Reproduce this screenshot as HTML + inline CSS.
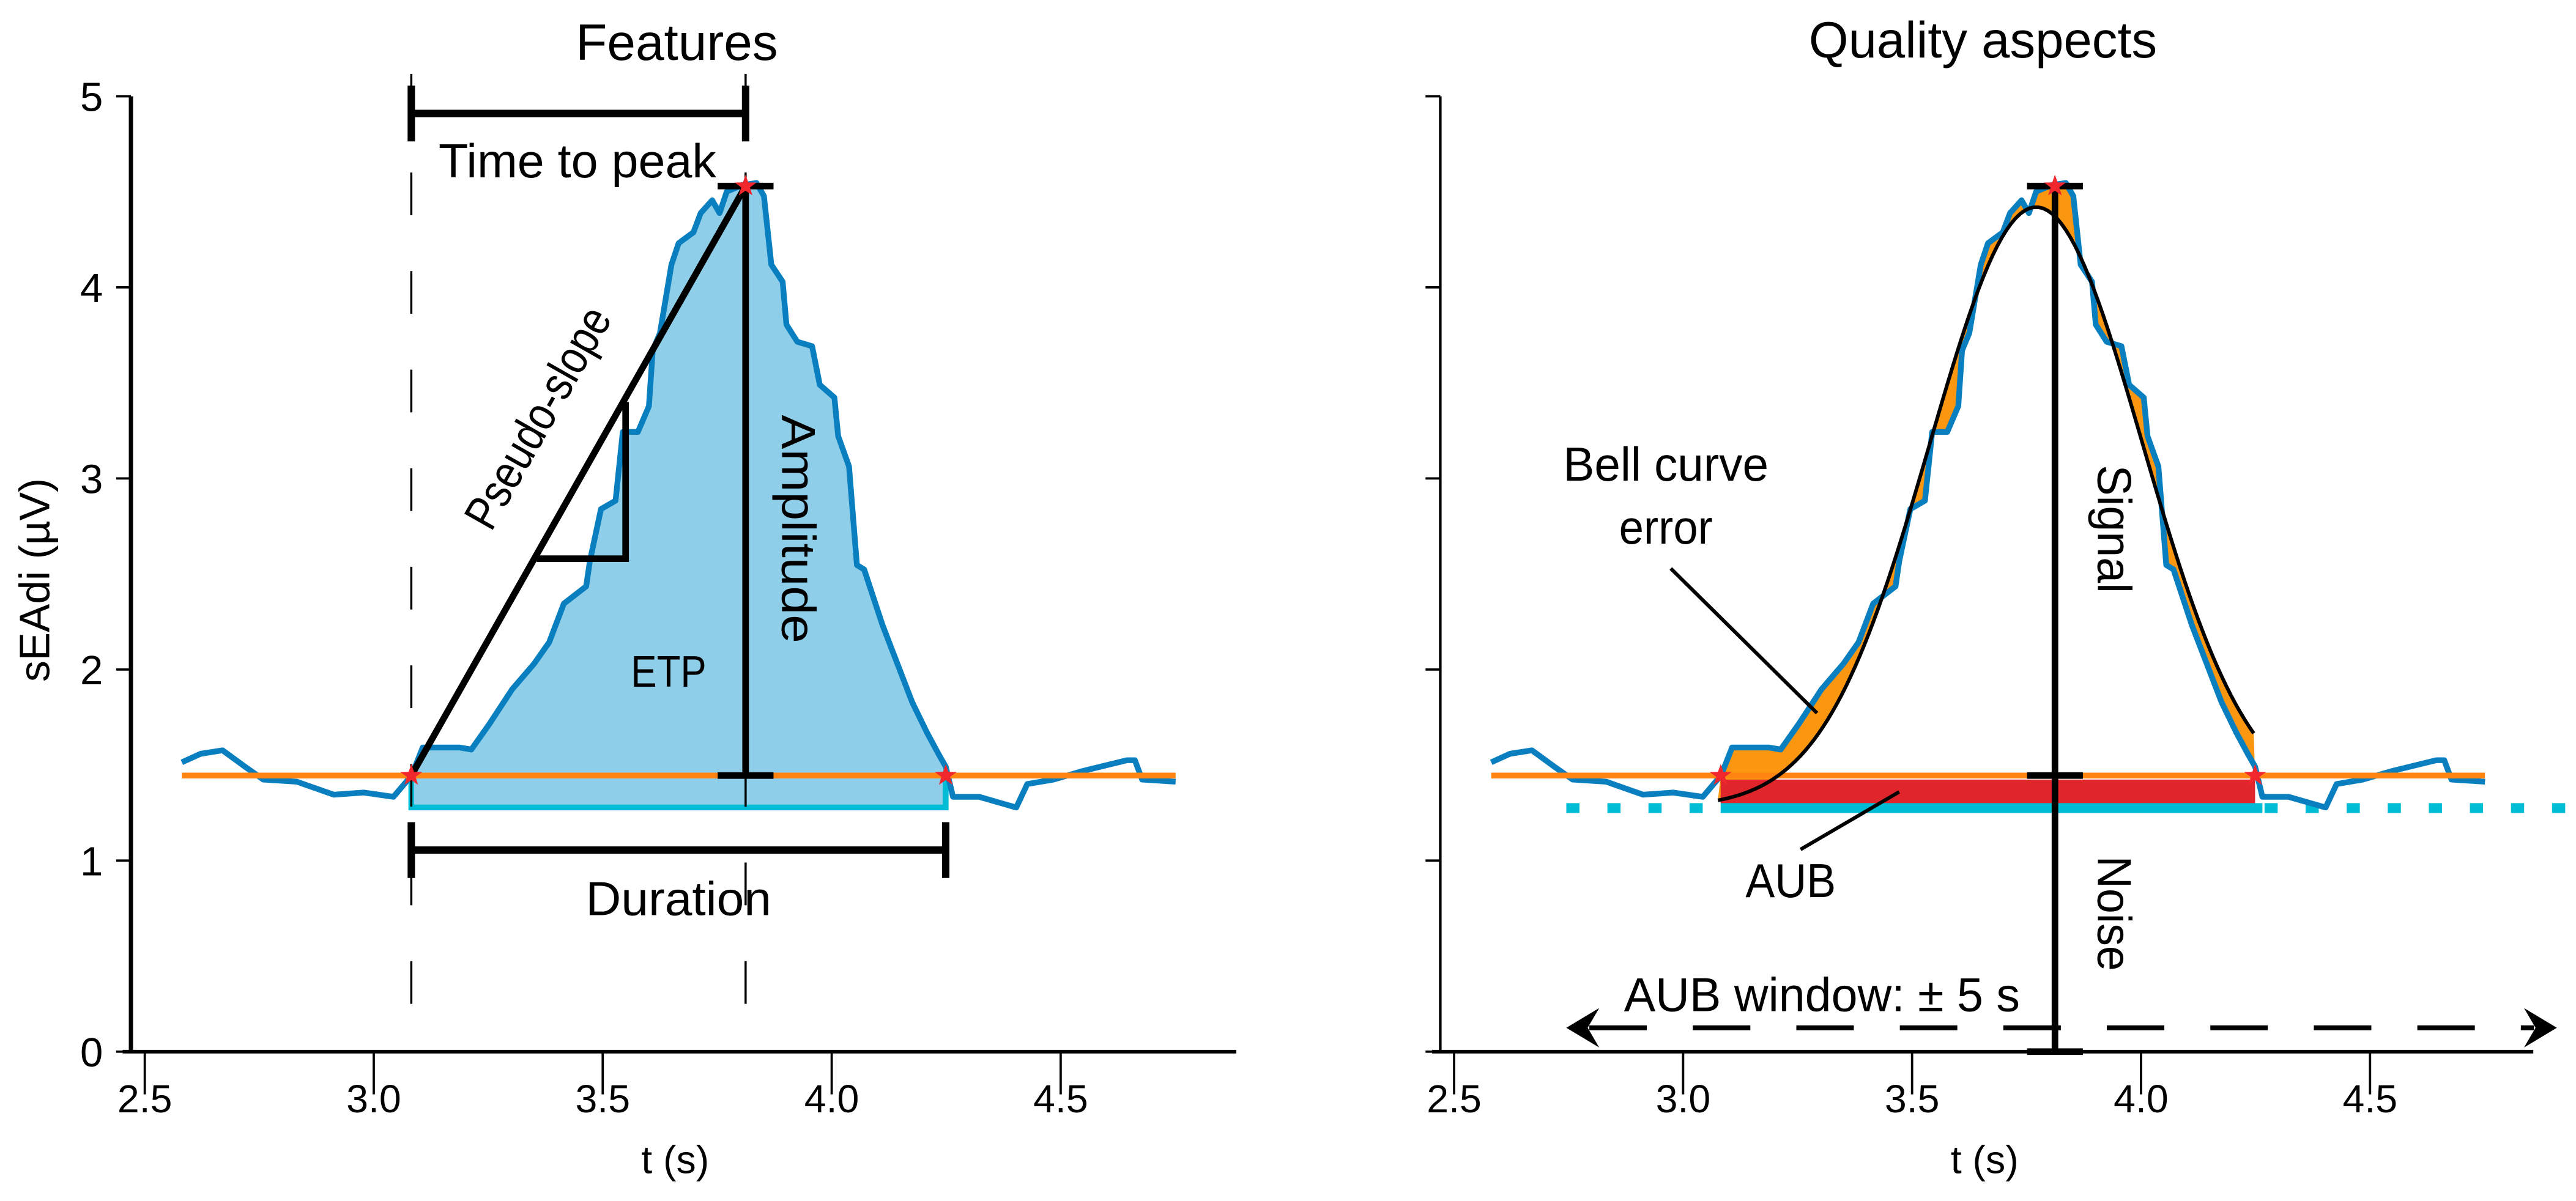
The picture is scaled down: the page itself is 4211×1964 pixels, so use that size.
<!DOCTYPE html>
<html><head><meta charset="utf-8"><style>
html,body{margin:0;padding:0;background:#fff}
svg{display:block}
text{font-family:"Liberation Sans",Arial,sans-serif;fill:#000}
</style></head><body>
<svg id="fig" width="4211" height="1964" viewBox="0 0 1568 731" preserveAspectRatio="none" xmlns="http://www.w3.org/2000/svg"></svg>
<script>
// ---- data ----
const traceT=[2.581,2.622,2.670,2.719,2.759,2.832,2.913,2.978,3.043,3.083,3.107,3.188,3.213,3.253,3.302,3.350,3.383,3.415,3.464,3.472,3.496,3.528,3.544,3.577,3.601,3.609,3.625,3.650,3.666,3.698,3.714,3.739,3.755,3.771,3.804,3.836,3.852,3.868,3.893,3.901,3.925,3.957,3.974,4.006,4.014,4.038,4.055,4.071,4.111,4.176,4.208,4.233,4.249,4.265,4.322,4.403,4.427,4.484,4.548,4.645,4.662,4.678,4.751];
const traceV=[1.514,1.559,1.577,1.491,1.424,1.413,1.345,1.356,1.334,1.446,1.592,1.592,1.581,1.716,1.896,2.030,2.143,2.345,2.435,2.569,2.839,2.884,3.243,3.243,3.378,3.670,3.760,4.119,4.231,4.288,4.389,4.456,4.389,4.501,4.535,4.546,4.478,4.119,4.029,3.805,3.715,3.692,3.490,3.423,3.221,3.063,2.547,2.524,2.232,1.828,1.671,1.559,1.491,1.334,1.334,1.278,1.401,1.424,1.469,1.525,1.525,1.424,1.413];
const baselineOrange=1.445, baselineCyan=1.278;
const onsetT=3.082, peakT=3.812, offsetT=4.249, peakV=4.53;
const bellParams=[1.28,3.14,3.771,0.232]; // offset, height, mean, sigma
const aubWindow=[2.745,4.908];
const xTicks=[2.5,3.0,3.5,4.0,4.5];
const xTickLabels=["2.5","3.0","3.5","4.0","4.5"];
const yTicks=[0,1,2,3,4,5];
const yTickLabels=["0","1","2","3","4","5"];

const NS="http://www.w3.org/2000/svg";
const svg=document.getElementById('fig');
function el(tag,attrs,parent,txt){const e=document.createElementNS(NS,tag);for(const k in attrs)e.setAttribute(k,attrs[k]);if(txt!==undefined)e.textContent=txt;(parent||svg).appendChild(e);return e;}
const Y=v=>640.1-v*116.3;
function panel(off,name){
  const X=t=>off+227.5+(t-3)*278.75;
  const g=el('g',{});
  
  
  return {X,g};
}
function tracePts(X){return traceT.map((t,i)=>X(t).toFixed(1)+','+Y(traceV[i]).toFixed(1));}
function star(g,x,y,name){const p=[];for(let i=0;i<10;i++){const r=i%2?2.8:7,a=-Math.PI/2+i*Math.PI/5;p.push((x+r*Math.cos(a)).toFixed(1)+','+(y+r*Math.sin(a)).toFixed(1));}
  const s=el('polygon',{points:p.join(' '),fill:'#f0282d'},g);}
function axes(P,off,labels,xEnd){
  const g=el('g',{},P.g);
  
  
  const ax=off+79.7;
  el('line',{x1:ax,y1:Y(5),x2:ax,y2:Y(0)+1,stroke:'#000','stroke-width':labels?2.6:1.6},g);
  el('line',{x1:ax-5,y1:Y(0),x2:xEnd,y2:Y(0),stroke:'#000','stroke-width':2.2},g);
  yTicks.forEach((v,i)=>{el('line',{x1:ax-9,y1:Y(v),x2:ax,y2:Y(v),stroke:'#000','stroke-width':1.4},g);
    if(labels){const t=el('text',{x:ax-17,y:Y(v)+9,'font-size':25,'text-anchor':'end'},g,yTickLabels[i]);}});
  xTicks.forEach((v,i)=>{el('line',{x1:P.X(v),y1:Y(0),x2:P.X(v),y2:Y(0)+26,stroke:'#000','stroke-width':1.4},g);
    const t=el('text',{x:P.X(v),y:677,'font-size':24,'text-anchor':'middle'},g,xTickLabels[i]);});
  const xt=el('text',{x:off+411,y:714,'font-size':24,'text-anchor':'middle'},g,'t (s)');
}
function lbl(g,x,y,s,txt,name,rot,len){const a={x,y,'font-size':s,'text-anchor':'middle'};if(rot!==undefined&&rot!==null)a.transform=`rotate(${rot} ${x} ${y})`;if(len){a.textLength=len;a.lengthAdjust='spacingAndGlyphs';}const t=el('text',a,g,txt);}

// ---- left panel ----
(function(){
  const P=panel(0,'features-panel'),X=P.X,g=P.g;
  const fillPts=[X(onsetT)+','+Y(baselineOrange)];traceT.forEach((t,i)=>{if(t>onsetT&&t<offsetT)fillPts.push(X(t)+','+Y(traceV[i]));});
  fillPts.push(X(offsetT)+','+Y(baselineOrange));
  fillPts.push(X(offsetT)+','+Y(baselineCyan));fillPts.push(X(onsetT)+','+Y(baselineCyan));
  const f=el('polygon',{points:fillPts.join(' '),fill:'#8fcee8'},g);
  const c=el('polyline',{points:`${X(onsetT)},${Y(1.44)} ${X(onsetT)},${Y(baselineCyan)} ${X(offsetT)},${Y(baselineCyan)} ${X(offsetT)},${Y(1.44)}`,fill:'none',stroke:'#00bcd4','stroke-width':3.5},g);
  const tr=el('polyline',{points:tracePts(X).join(' '),fill:'none',stroke:'#0a7fc0','stroke-width':3.5,'stroke-linejoin':'round'},g);
  const o=el('line',{x1:X(2.581),y1:Y(baselineOrange),x2:X(4.751),y2:Y(baselineOrange),stroke:'#ff8512','stroke-width':3.5},g);
  [onsetT,peakT].forEach(t=>{const d=el('line',{x1:X(t),y1:45,x2:X(t),y2:Y(0),stroke:'#000','stroke-width':1.3,'stroke-dasharray':'26 34'},g);});
  function bracketH(t1,t2,v,name){const gg=el('g',{stroke:'#000','stroke-width':4.5},g);
    el('line',{x1:X(t1),y1:Y(v),x2:X(t2),y2:Y(v)},gg);el('line',{x1:X(t1),y1:Y(v)-17,x2:X(t1),y2:Y(v)+17},gg);el('line',{x1:X(t2),y1:Y(v)-17,x2:X(t2),y2:Y(v)+17},gg);}
  bracketH(onsetT,peakT,4.91,'time-to-peak-bracket');
  bracketH(onsetT,offsetT,1.055,'duration-bracket');
  const am=el('g',{stroke:'#000','stroke-width':4},g);
  el('line',{x1:X(peakT),y1:Y(peakV),x2:X(peakT),y2:Y(baselineOrange)},am);
  el('line',{x1:X(peakT)-17,y1:Y(peakV),x2:X(peakT)+17,y2:Y(peakV)},am);
  el('line',{x1:X(peakT)-17,y1:Y(baselineOrange),x2:X(peakT)+17,y2:Y(baselineOrange)},am);
  const sl=el('g',{stroke:'#000','stroke-width':4,fill:'none'},g);
  el('line',{x1:X(onsetT),y1:Y(baselineOrange),x2:X(peakT),y2:Y(peakV)},sl);
  el('polyline',{points:`${X(3.356)},${Y(2.58)} ${X(3.55)},${Y(2.58)} ${X(3.55)},${Y(3.40)}`},sl);
  star(g,X(onsetT),Y(baselineOrange),'onset-star');star(g,X(offsetT),Y(baselineOrange),'offset-star');star(g,X(peakT),Y(peakV),'peak-star');
  axes(P,0,true,752.5);
  lbl(g,412,36.5,31,'Features','panel-title',null,123);
  lbl(g,351.5,108,29,'Time to peak','time-to-peak-label',null,169);
  lbl(g,413,557,29,'Duration','duration-label',null,113);
  lbl(g,407,418,27,'ETP','etp-label',null,46);
  lbl(g,476,322,29,'Amplitude','amplitude-label',90,139);
  lbl(g,336,259,29,'Pseudo-slope','pseudo-slope-label',-60.4,150);
  lbl(g,30,353,26,'sEAdi (µV)','y-axis-title',-90,124);
})();

// ---- right panel ----
(function(){
  const off=797,P=panel(off,'quality-panel'),X=P.X,g=P.g;
  const bell=t=>bellParams[0]+bellParams[1]*Math.exp(-Math.pow(t-bellParams[2],2)/(2*bellParams[3]*bellParams[3]));
  const bellT=[];for(let t=3.076;t<=4.246+1e-9;t+=0.01)bellT.push(t);
  const up=[X(onsetT)+','+Y(baselineOrange)];traceT.forEach((t,i)=>{if(t>onsetT&&t<offsetT)up.push(X(t)+','+Y(traceV[i]));});
  up.push(X(offsetT)+','+Y(baselineOrange));
  const dn=bellT.slice().reverse().map(t=>X(t)+','+Y(bell(t)));
  const oa=el('polygon',{points:up.concat(dn).join(' '),fill:'#fa9610'},g);
  const r=el('rect',{x:X(onsetT),y:Y(1.424),width:X(offsetT)-X(onsetT),height:Y(1.30)-Y(1.424),fill:'#e0252b'},g);
  const c=el('line',{x1:X(onsetT),y1:Y(1.275),x2:X(4.265),y2:Y(1.275),stroke:'#00bcd4','stroke-width':6},g);
  const dt=el('line',{x1:X(aubWindow[0]),y1:Y(1.275),x2:1570,y2:Y(1.275),stroke:'#00bcd4','stroke-width':6,'stroke-dasharray':'8 17'},g);
  const tr=el('polyline',{points:tracePts(X).join(' '),fill:'none',stroke:'#0a7fc0','stroke-width':3.5,'stroke-linejoin':'round'},g);
  const o=el('line',{x1:X(2.581),y1:Y(baselineOrange),x2:X(4.751),y2:Y(baselineOrange),stroke:'#ff8512','stroke-width':3.5},g);
  const bc=el('polyline',{points:bellT.map(t=>X(t)+','+Y(bell(t))).join(' '),fill:'none',stroke:'#000','stroke-width':2.2},g);
  const sn=el('g',{stroke:'#000','stroke-width':4},g);
  el('line',{x1:X(peakT),y1:Y(peakV),x2:X(peakT),y2:Y(0)},sn);
  [peakV,baselineOrange,0].forEach(v=>el('line',{x1:X(peakT)-17,y1:Y(v),x2:X(peakT)+17,y2:Y(v)},sn));
  const aw=el('g',{},g);
  const lx=X(aubWindow[0]),rx=X(aubWindow[1]),ay=Y(0.125);
  el('line',{x1:lx+14,y1:ay,x2:rx-14,y2:ay,stroke:'#000','stroke-width':3,'stroke-dasharray':'35 28'},aw);
  el('polygon',{points:`${lx},${ay} ${lx+20},${ay-12} ${lx+13},${ay} ${lx+20},${ay+12}`,fill:'#000'},aw);
  el('polygon',{points:`${rx},${ay} ${rx-20},${ay-12} ${rx-13},${ay} ${rx-20},${ay+12}`,fill:'#000'},aw);
  const ld=el('g',{stroke:'#000','stroke-width':2.2},g);
  el('line',{x1:1017,y1:346,x2:1106,y2:434},ld);
  el('line',{x1:1156,y1:482,x2:1096,y2:517},ld);
  star(g,X(onsetT),Y(baselineOrange),'onset-star');star(g,X(offsetT),Y(baselineOrange),'offset-star');star(g,X(peakT),Y(peakV),'peak-star');
  axes(P,off,false,1542);
  lbl(g,1207,35,31,'Quality aspects','panel-title',null,212);
  lbl(g,1014,292.6,29,'Bell curve','bell-curve-error-label',null,125);
  lbl(g,1014,330.8,29,'error','bell-curve-error-label-2',null,57);
  lbl(g,1090,546,29,'AUB','aub-label',null,55);
  lbl(g,1109,615.5,29,'AUB window: ± 5 s','aub-window-label',null,241);
  lbl(g,1277,322,29,'Signal','signal-label',90,78);
  lbl(g,1277,556,29,'Noise','noise-label',90,70);
})();
</script>
</body></html>
